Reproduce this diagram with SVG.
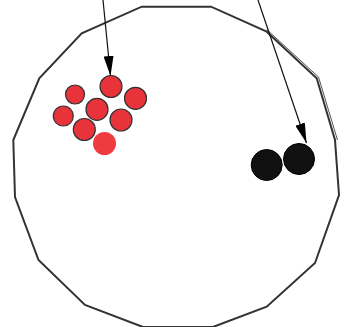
<svg xmlns="http://www.w3.org/2000/svg" width="348" height="327" viewBox="0 0 348 327">
<style>
.outline{fill:none;stroke:#333;stroke-width:2;stroke-linejoin:miter}
.outline2{fill:none;stroke:#555;stroke-width:1}
.red{fill:#e8333a;stroke:#333;stroke-width:1.2}
.redplain{fill:#ef3a40;stroke:none}
.black{fill:#111;stroke:#000;stroke-width:1}
.conn{stroke:#111;stroke-width:1.2;fill:none}
</style>
<defs>
<marker id="ah" viewBox="0 0 20 10" refX="20" refY="5" markerWidth="20" markerHeight="10" markerUnits="userSpaceOnUse" orient="auto">
<path d="M0,0 L20,5 L0,10 Z" fill="#000"/>
</marker>
</defs>
<g id="container">
<polygon class="outline" points="141.7,6.7 211,6.7 266.7,31.7 316.7,78.3 335,140 339,195 315,263 266.7,306.7 213,327 143,327 85,305 38.5,260 15,197 13.3,140 39.3,78.3 81.7,33.3"/>
<polyline class="outline2" points="266.7,29.5 318.5,77 337.5,140"/>
</g>
<g id="red-group">
<circle class="red" cx="111" cy="86.5" r="11"/>
<circle class="red" cx="75" cy="94.5" r="9.5"/>
<circle class="red" cx="135.5" cy="98.3" r="11"/>
<circle class="red" cx="97" cy="109.3" r="11"/>
<circle class="red" cx="63.3" cy="116" r="10"/>
<circle class="red" cx="121" cy="120" r="11"/>
<circle class="red" cx="84.3" cy="129.5" r="11"/>
<circle class="redplain" cx="104.5" cy="143.5" r="11.5"/>
</g>
<g id="black-group">
<circle class="black" cx="266.7" cy="165" r="15.5"/>
<circle class="black" cx="299" cy="159" r="15.5"/>
</g>
<g id="connectors">
<line class="conn" x1="103" y1="0" x2="110.5" y2="76" marker-end="url(#ah)"/>
<line class="conn" x1="258" y1="0" x2="306.5" y2="143" marker-end="url(#ah)"/>
</g>
</svg>
